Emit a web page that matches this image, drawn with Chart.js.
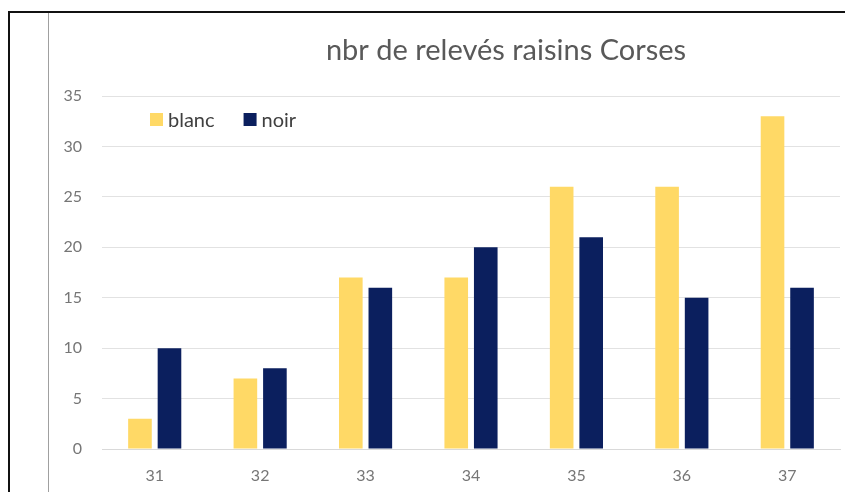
<!DOCTYPE html>
<html><head><meta charset="utf-8">
<script src="https://cdn.jsdelivr.net/npm/chart.js@4.4.0/dist/chart.umd.min.js"></script>
<style>
html,body{margin:0;padding:0;background:#fff;}
#wrap{position:relative;width:845px;height:492px;overflow:hidden;}
#c{position:absolute;left:0;top:0;}
.ln{position:absolute;}
</style></head>
<body>
<div id="wrap">
<canvas id="c" width="845" height="492"></canvas>
<div class="ln" style="left:8px;top:11px;width:2px;height:481px;background:#111"></div>
<div class="ln" style="left:8px;top:11px;width:837px;height:2px;background:#111"></div>
<div class="ln" style="left:48px;top:13px;width:1px;height:479px;background:#a0a0a0"></div>
</div>
<script>
const categories = ['31','32','33','34','35','36','37'];
const blanc = [3, 7, 17, 17, 26, 26, 33];
const noir = [10, 8, 16, 20, 21, 15, 16];
const titleText = 'nbr de relevés raisins Corses';

const FONT = 'Lato';

const overlay = {
  id: 'overlay',
  afterDraw(chart) {
    const ctx = chart.ctx;
    ctx.save();
    // title
    ctx.font = '29px ' + FONT;
    ctx.fillStyle = '#595959';
    ctx.textAlign = 'center';
    ctx.textBaseline = 'alphabetic';
    ctx.fillText(titleText, 506, 60);
    // legend
    ctx.font = '20px ' + FONT;
    ctx.textAlign = 'left';
    let x = 150;
    chart.data.datasets.forEach(ds => {
      ctx.fillStyle = ds.backgroundColor;
      ctx.fillRect(x, 113, 13, 13);
      ctx.fillStyle = '#404040';
      ctx.fillText(ds.label, x + 18, 127);
      x += 18 + ctx.measureText(ds.label).width + 29;
    });
    ctx.restore();
  }
};

new Chart(document.getElementById('c'), {
  type: 'bar',
  data: {
    labels: categories,
    datasets: [
      {label: 'blanc', data: blanc, backgroundColor: '#FFD966', barPercentage: 0.8, categoryPercentage: 0.56},
      {label: 'noir', data: noir, backgroundColor: '#0B1F5E', barPercentage: 0.8, categoryPercentage: 0.56}
    ]
  },
  plugins: [overlay],
  options: {
    responsive: false,
    animation: false,
    layout: {padding: {left: 49, top: 96, right: 5, bottom: 0}},
    plugins: {
      title: {display: false},
      legend: {display: false},
      tooltip: {enabled: false}
    },
    scales: {
      x: {
        grid: {display: false, drawTicks: false},
        border: {display: true, color: '#d9d9d9'},
        ticks: {color: '#767676', padding: 17, font: {family: FONT, size: 16}},
        afterFit: s => { s.height = 43; }
      },
      y: {
        min: 0, max: 35,
        ticks: {stepSize: 5, color: '#767676', padding: 20, font: {family: FONT, size: 16}},
        grid: {color: '#e2e2e2', drawTicks: false},
        border: {display: false},
        afterFit: s => { s.width = 53; }
      }
    }
  }
});
</script>
</body></html>
